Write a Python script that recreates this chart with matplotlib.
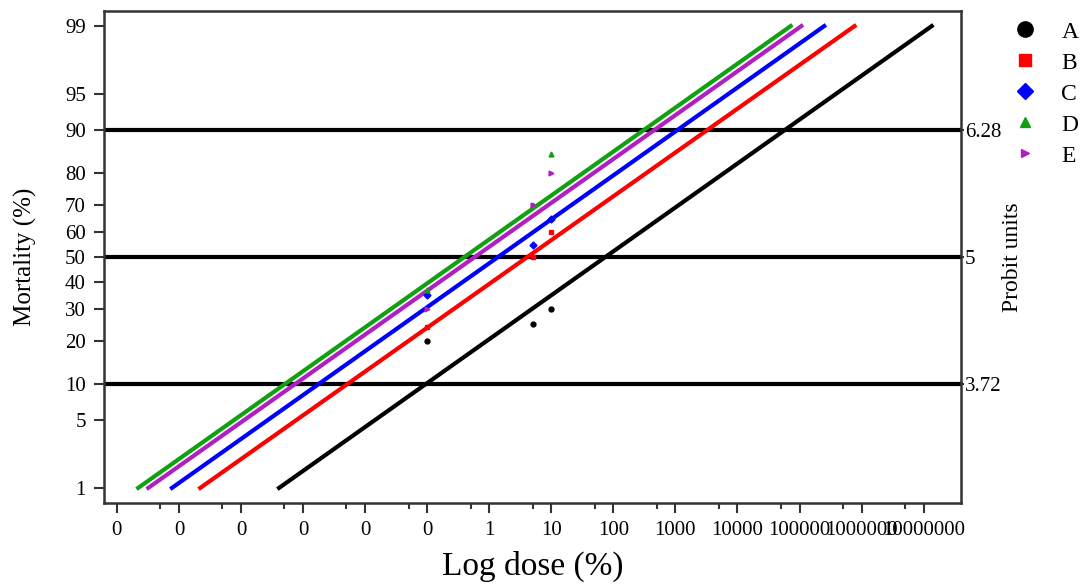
import math
import numpy as np
import matplotlib
matplotlib.use('Agg')
import matplotlib.pyplot as plt
from matplotlib.lines import Line2D
from matplotlib.ticker import FixedLocator, FuncFormatter, NullLocator, NullFormatter
from statistics import NormalDist

plt.rcParams['font.family'] = ['Liberation Serif', 'DejaVu Serif']

series = ['A', 'B', 'C', 'D', 'E']
colors = ['black', '#ff0000', '#0000ff', '#10a010', '#b020c0']
markers = ['o', 's', 'D', '^', '>']

# observed mortality (%) at each dose (%)
doses = [0.1, 5, 10]
mort_A = [20, 25, 30]
mort_B = [24, 50, 60]
mort_C = [35, 55, 65]
mort_D = [37, 70, 85]
mort_E = [30, 70, 80]

# fitted probit lines: dose (%) giving 1% and 99% mortality
line_pct = [1, 99]
line_A = [4.1e-4, 1.35e7]
line_B = [2.2e-5, 7.7e5]
line_C = [7.7e-6, 2.5e5]
line_D = [2.2e-6, 7.2e4]
line_E = [3.2e-6, 1.07e5]

yticks = [1, 5, 10, 20, 30, 40, 50, 60, 70, 80, 90, 95, 99]
xticks = [1e-6, 1e-5, 1e-4, 1e-3, 1e-2, 1e-1, 1, 10, 100, 1e3, 1e4, 1e5, 1e6, 1e7]
xminor = [5e-7, 5e-6, 5e-5, 5e-4, 5e-3, 5e-2, 0.5, 5, 50, 500, 5e3, 5e4, 5e5, 5e6]
ref_levels = [10, 50, 90]
probit_labels = ['3.72', '5', '6.28']

nd = NormalDist()
_ppf = np.vectorize(lambda p: nd.inv_cdf(min(max(p / 100.0, 1e-9), 1 - 1e-9)), otypes=[float])
_cdf = np.vectorize(lambda z: 100.0 * nd.cdf(z), otypes=[float])

def fwd(p):
    return _ppf(np.asarray(p, dtype=float))

def inv(z):
    return _cdf(np.asarray(z, dtype=float))

fig = plt.figure(figsize=(10.85, 5.85), dpi=100)
ax = fig.add_axes([0.0959, 0.1402, 0.7898, 0.8410])
ax.set_xscale('log')
ax.set_yscale('function', functions=(fwd, inv))

muertes = [mort_A, mort_B, mort_C, mort_D, mort_E]
lineas = [line_A, line_B, line_C, line_D, line_E]

for lv in ref_levels:
    ax.axhline(lv, color='k', lw=3, zorder=1)

for i in range(len(series)):
    ax.plot(lineas[i], line_pct, color=colors[i], lw=3, zorder=2)
    ax.plot(doses, muertes[i], ls='', marker=markers[i], color=colors[i], ms=3.5, zorder=3)

ax.set_xlim(6.2e-7, 4e7)
ax.set_ylim(0.66, 99.34)

ax.xaxis.set_major_locator(FixedLocator(xticks))
ax.xaxis.set_major_formatter(FuncFormatter(lambda v, p: '%d' % round(v)))
ax.xaxis.set_minor_locator(FixedLocator(xminor))
ax.xaxis.set_minor_formatter(NullFormatter())
ax.yaxis.set_major_locator(FixedLocator(yticks))
ax.yaxis.set_major_formatter(FuncFormatter(lambda v, p: '%d' % round(v)))
ax.yaxis.set_minor_locator(NullLocator())

ax.tick_params(axis='both', which='major', labelsize=15, width=1.5, length=7, color='#333333')
ax.tick_params(axis='x', which='minor', width=1.5, length=4, color='#333333')
ax.tick_params(axis='x', pad=6)
ax.tick_params(axis='y', pad=6)
for s in ax.spines.values():
    s.set_linewidth(1.8)
    s.set_color('#333333')

ax.set_xlabel('Log dose (%)', fontsize=24, labelpad=8)
ax.set_ylabel('Mortality (%)', fontsize=18, labelpad=20)

ax2 = ax.twinx()
ax2.set_yscale('function', functions=(fwd, inv))
ax2.set_ylim(ax.get_ylim())
ax2.yaxis.set_major_locator(FixedLocator(ref_levels))
ax2.yaxis.set_major_formatter(FuncFormatter(lambda v, p: probit_labels[ref_levels.index(int(round(v)))]
                                            if int(round(v)) in ref_levels else ''))
ax2.yaxis.set_minor_locator(NullLocator())
ax2.tick_params(axis='y', labelsize=15, length=2, width=1.5, pad=1, color='#333333')
ax2.set_ylabel('Probit units', fontsize=17, labelpad=0)
for s in ax2.spines.values():
    s.set_visible(False)

handles = [Line2D([], [], ls='', marker=markers[i], color=colors[i], ms=ms)
           for i, ms in enumerate([11, 8, 8, 7, 6])]
fig.legend(handles, series, loc='upper left', bbox_to_anchor=(0.925, 0.980),
           frameon=False, fontsize=17, handlelength=1.0, handletextpad=1.05,
           labelspacing=0.40, borderaxespad=0)

fig.savefig('out.png', dpi=100)
